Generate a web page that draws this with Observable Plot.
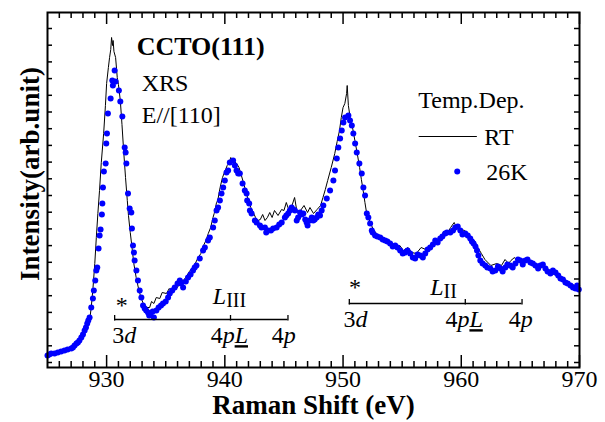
<!DOCTYPE html>
<html><head><meta charset="utf-8">
<script src="https://cdn.jsdelivr.net/npm/d3@7"></script>
<script src="https://cdn.jsdelivr.net/npm/@observablehq/plot@0.6"></script>
<style>
body{margin:0;background:#fff;}
#chart svg{font-family:"Liberation Serif","Times New Roman",serif;}
</style>
</head><body><div id="chart"></div>
<script>
// Room temperature spectrum (line): Raman shift (eV) and intensity (arb. unit)
const rtE = [925.0,925.5,926.0,926.5,927.0,927.5,928.0,928.3,928.56,928.7,928.85,929.0,929.13,929.26,929.4,929.55,929.75,929.9,930.0,930.15,930.25,930.35,930.42,930.5,930.55,930.62,930.76,930.9,931.0,931.16,931.3,931.44,931.6,931.75,931.85,932.0,932.15,932.3,932.5,932.7,932.9,933.1,933.35,933.64,933.8,934.0,934.2,934.5,934.7,935.06,935.3,935.5,935.8,936.0,936.2,936.5,936.8,937.0,937.2,937.5,937.7,937.97,938.2,938.4,938.6,938.8,939.0,939.1,939.3,939.4,939.6,939.8,940.0,940.2,940.35,940.5,940.65,940.8,941.0,941.2,941.4,941.6,941.8,942.0,942.2,942.4,942.6,942.8,943.0,943.2,943.4,943.6,943.8,944.0,944.2,944.5,944.8,945.0,945.2,945.4,945.6,945.9,946.1,946.4,946.7,947.0,947.2,947.5,947.8,948.1,948.3,948.5,948.7,949.0,949.3,949.5,949.7,949.85,950.0,950.15,950.3,950.35,950.45,950.6,950.8,951.0,951.2,951.4,951.55,951.7,951.85,952.0,952.3,952.6,953.0,953.4,953.7,954.0,954.4,954.8,955.1,955.5,955.8,956.2,956.6,957.0,957.4,957.7,958.0,958.3,958.5,958.8,959.1,959.4,959.6,959.9,960.3,960.7,961.1,961.4,961.7,962.0,962.5,963.0,963.4,963.7,964.0,964.2,964.5,964.8,965.0,965.3,965.7,966.0,966.5,967.0,967.6,968.0,968.4,968.7,969.2,969.6,969.9];
const rtI = [14,14,15,17,20,23,30,38,47,60,80,104,130,154,177,205,234,262,284,300,310,318,330,322,327,316,310,290,283,267,243,217,190,167,152,135,120,104,90,79,70,64,60,60,66,64,70,69,75,74,79,76,82,80,88,87,92,96,99,104,109,114,122,127,134,140,150,154,165,167,180,190,196,202,204,210,207,206,204,200,192,184,175,167,160,155,150,147,148,153,147,150,155,150,157,152,158,157,165,158,159,170,156,157,162,155,160,154,158,162,170,178,187,200,214,226,237,250,260,264,274,282,262,250,240,227,214,200,188,177,165,154,145,137,132,128,124,126,120,122,117,120,115,114,120,118,120,127,126,130,136,134,140,145,140,138,137,132,127,120,114,108,102,104,102,108,104,107,110,105,109,107,108,104,102,100,95,92,88,87,84,82,80];

// 26 K spectrum (dots)
const k26E = [925.0,925.15,925.31,925.6,925.87,926.15,926.44,926.7,927.01,927.15,927.29,927.45,927.57,927.7,927.86,928.0,928.14,928.25,928.36,928.45,928.56,928.70,928.84,928.92,929.04,929.13,929.21,929.32,929.41,929.49,929.60,929.64,929.69,929.77,929.92,929.97,930.03,930.11,930.34,930.48,930.53,930.68,930.76,931.04,931.16,931.33,931.53,931.61,931.67,931.81,931.95,932.09,932.14,932.23,932.31,932.37,932.52,932.65,932.80,932.94,933.08,933.22,933.35,933.50,933.6,933.73,933.9,934.0,934.21,934.4,934.6,934.77,935.0,935.2,935.34,935.55,935.76,936.0,936.19,936.3,936.47,936.7,936.89,937.1,937.31,937.45,937.60,937.88,938.16,938.31,938.58,938.73,939.01,939.15,939.30,939.43,939.58,939.72,939.86,940.0,940.14,940.28,940.42,940.70,940.85,940.99,941.13,941.27,941.50,941.69,941.84,941.89,942.06,942.12,942.26,942.54,942.69,942.97,943.1,943.39,943.5,943.67,943.9,944.09,944.38,944.6,944.81,945.08,945.2,945.36,945.5,945.65,945.8,945.93,946.08,946.2,946.36,946.5,946.64,946.8,946.92,947.0,947.20,947.35,947.48,947.6,947.77,947.9,948.05,948.19,948.33,948.62,948.90,949.18,949.32,949.47,949.60,949.75,949.89,950.03,950.17,950.45,950.59,950.74,950.87,951.02,951.16,951.38,951.58,951.72,951.86,952.01,952.14,952.29,952.43,952.5,952.71,952.9,953.14,953.35,953.56,953.75,953.98,954.2,954.41,954.6,954.83,955.05,955.25,955.45,955.68,955.9,956.10,956.3,956.53,956.75,956.95,957.15,957.37,957.6,957.80,958.0,958.22,958.4,958.64,958.79,959.07,959.3,959.49,959.7,959.92,960.1,960.34,960.55,960.76,960.9,961.04,961.2,961.33,961.45,961.61,961.8,962.03,962.2,962.46,962.65,962.88,963.1,963.31,963.5,963.73,963.9,964.15,964.35,964.58,964.8,965.0,965.2,965.42,965.6,965.85,966.05,966.27,966.5,966.69,966.9,967.12,967.3,967.54,967.75,967.97,968.2,968.39,968.6,968.81,969.0,969.24,969.45,969.66,969.8,969.94];
const k26I = [12,13,14,14,15,16,17,18,19,20,22,24,25,27,30,33,37,40,44,47,50,60,69,77,87,97,100,119,132,138,153,164,180,196,204,224,234,254,269,287,282,297,286,277,266,251,220,215,204,174,159,155,139,122,115,107,97,87,77,70,62,59,57,55,52,54,56,50,57,60,62,64,66,70,74,77,80,84,87,84,80,86,90,93,97,100,102,109,117,120,127,130,140,147,157,160,167,174,180,187,195,197,205,207,202,197,194,194,184,177,174,167,164,157,154,147,145,142,140,140,135,137,137,139,140,143,145,150,152,154,157,160,158,157,147,150,155,153,154,148,145,142,147,150,147,148,150,153,152,157,162,169,177,187,197,209,220,229,237,245,250,252,247,242,234,224,215,204,194,180,172,154,150,144,137,135,132,131,130,128,127,126,124,121,122,120,117,114,115,117,114,110,109,113,112,110,114,118,120,123,127,125,129,131,134,135,135,137,140,141,137,133,134,132,129,126,124,121,117,112,107,104,102,100,99,96,97,101,99,96,100,103,102,100,104,108,107,103,107,108,105,104,102,99,102,103,99,96,94,97,95,92,89,88,85,84,82,80,79,82,78];

// Axis ticks
const xMajor = [930, 940, 950, 960, 970];
const xMinor = d3.range(926, 970).filter(v => v % 10 !== 0);
const yTicks = d3.range(0, 21).map(i => 5 + i * 16.7);

// Series and annotation labels
const seriesNames = ["RT", "26K"];
const legendTitle = "Temp.Dep.";
const sampleTitle = ["CCTO(111)", "XRS", "E//[110]"];
const edgeLabels = ["3d", "4pL", "4p"];
const lIII = [930.68, 940.48, 945.34];
const lII = [950.53, 960.34, 965.14];

const rt = rtE.map((e, i) => ({e, v: rtI[i]}));
const k26 = k26E.map((e, i) => ({e, v: k26I[i]}));
const serif = "Liberation Serif";
const W = 605, H = 422, ML = 47, MR = 26, MT = 12, MB = 55;
const fw = W - ML - MR, fh = H - MT - MB;

function bracket(pos, yv) {
  return [
    Plot.ruleY([yv], {x1: pos[0], x2: pos[2], stroke: "black", strokeWidth: 1.3}),
    Plot.ruleX(pos, {x: d => d, y1: yv - 1.5, y2: yv + 4, stroke: "black", strokeWidth: 1.3})
  ];
}

const plot = Plot.plot({
  width: W, height: H,
  marginLeft: ML, marginRight: MR, marginTop: MT, marginBottom: MB,
  x: {domain: [925, 970], ticks: xMajor},
  y: {domain: [0, 355], axis: null},
  style: {fontFamily: serif, background: "white"},
  marks: [
    Plot.axisX(xMajor, {tickSize: 0, tickPadding: 2, fontSize: 24, label: null, fill: "black"}),
    // inward ticks bottom & top
    Plot.tickX(xMajor, {x: d => d, insetTop: fh - 12, stroke: "black", strokeWidth: 1.5}),
    Plot.tickX(xMinor, {x: d => d, insetTop: fh - 6, stroke: "black", strokeWidth: 1.5}),
    Plot.tickX(xMajor, {x: d => d, insetBottom: fh - 12, stroke: "black", strokeWidth: 1.5}),
    Plot.tickX(xMinor, {x: d => d, insetBottom: fh - 6, stroke: "black", strokeWidth: 1.5}),
    Plot.tickY(yTicks, {y: d => d, insetRight: fw - 5, stroke: "black", strokeWidth: 1.5}),
    Plot.tickY(yTicks, {y: d => d, insetLeft: fw - 5, stroke: "black", strokeWidth: 1.5}),
    Plot.line(rt, {x: "e", y: "v", stroke: "black", strokeWidth: 1}),
    Plot.dot(k26, {x: "e", y: "v", r: 3, fill: "#0000ff", stroke: null}),
    Plot.frame({stroke: "black", strokeWidth: 2}),
    // titles
    Plot.text(["Raman Shift (eV)"], {frameAnchor: "bottom", dy: 46, fontSize: 27, fontWeight: "bold", fill: "black"}),
    Plot.text(["Intensity(arb.unit)"], {frameAnchor: "left", textAnchor: "middle", dx: -17, dy: -16, rotate: -90, fontSize: 27, fontWeight: "bold", fill: "black"}),
    // sample info
    Plot.text([sampleTitle[0]], {x: 932.54, y: 321, textAnchor: "start", fontSize: 26, fontWeight: "bold", fill: "black"}),
    Plot.text([sampleTitle[1]], {x: 932.97, y: 284, textAnchor: "start", fontSize: 24, fill: "black"}),
    Plot.text([sampleTitle[2]], {x: 932.97, y: 252, textAnchor: "start", fontSize: 24, fill: "black"}),
    // legend
    Plot.text([legendTitle], {x: 956.36, y: 267, textAnchor: "start", fontSize: 24, fill: "black"}),
    Plot.ruleY([231], {x1: 956.44, x2: 961.36, stroke: "black", strokeWidth: 1}),
    Plot.text([seriesNames[0]], {x: 961.95, y: 230, textAnchor: "start", fontSize: 24, fill: "black"}),
    Plot.dot([0], {x: 959.66, y: 196, r: 3, fill: "#0000ff"}),
    Plot.text([seriesNames[1]], {x: 962.12, y: 195, textAnchor: "start", fontSize: 24, fill: "black"}),
    // L_III edge annotation
    ...bracket(lIII, 48),
    Plot.text(["*"], {x: 931.27, y: 62, fontSize: 24, fill: "black"}),
    Plot.text(["LIII"], {x: 938.98, y: 71, textAnchor: "start", fontSize: 24, fill: "black"}),
    Plot.text([edgeLabels[0]], {x: lIII[0] - 0.2, y: 32, textAnchor: "start", fontSize: 24, fill: "black"}),
    Plot.text([edgeLabels[1]], {x: lIII[1] - 0.1, y: 32, fontSize: 24, fill: "black"}),
    Plot.text([edgeLabels[2]], {x: lIII[2] - 0.35, y: 32, fontSize: 24, fill: "black"}),
    // L_II edge annotation
    ...bracket(lII, 64),
    Plot.text(["*"], {x: 951.02, y: 80, fontSize: 24, fill: "black"}),
    Plot.text(["LII"], {x: 957.37, y: 80, textAnchor: "start", fontSize: 24, fill: "black"}),
    Plot.text([edgeLabels[0]], {x: lII[0] - 0.5, y: 48, textAnchor: "start", fontSize: 24, fill: "black"}),
    Plot.text([edgeLabels[1]], {x: lII[1] - 0.1, y: 48, fontSize: 24, fill: "black"}),
    Plot.text([edgeLabels[2]], {x: lII[2] - 0.1, y: 48, fontSize: 24, fill: "black"})
  ]
});

// rich text styling (italics, subscripts, underline)
d3.select(plot).selectAll("text").each(function() {
  const t = this.textContent;
  const sel = d3.select(this);
  if (t === "3d") sel.html('3<tspan font-style="italic">d</tspan>');
  else if (t === "4pL") sel.html('4<tspan font-style="italic">p</tspan><tspan font-style="italic" text-decoration="underline">L</tspan>');
  else if (t === "4p") sel.html('4<tspan font-style="italic">p</tspan>');
  else if (t === "LIII") sel.html('<tspan font-style="italic">L</tspan><tspan font-size="20" dy="3">III</tspan>');
  else if (t === "LII") sel.html('<tspan font-style="italic">L</tspan><tspan font-size="20" dy="3">II</tspan>');
});
document.getElementById("chart").appendChild(plot);
</script></body></html>
